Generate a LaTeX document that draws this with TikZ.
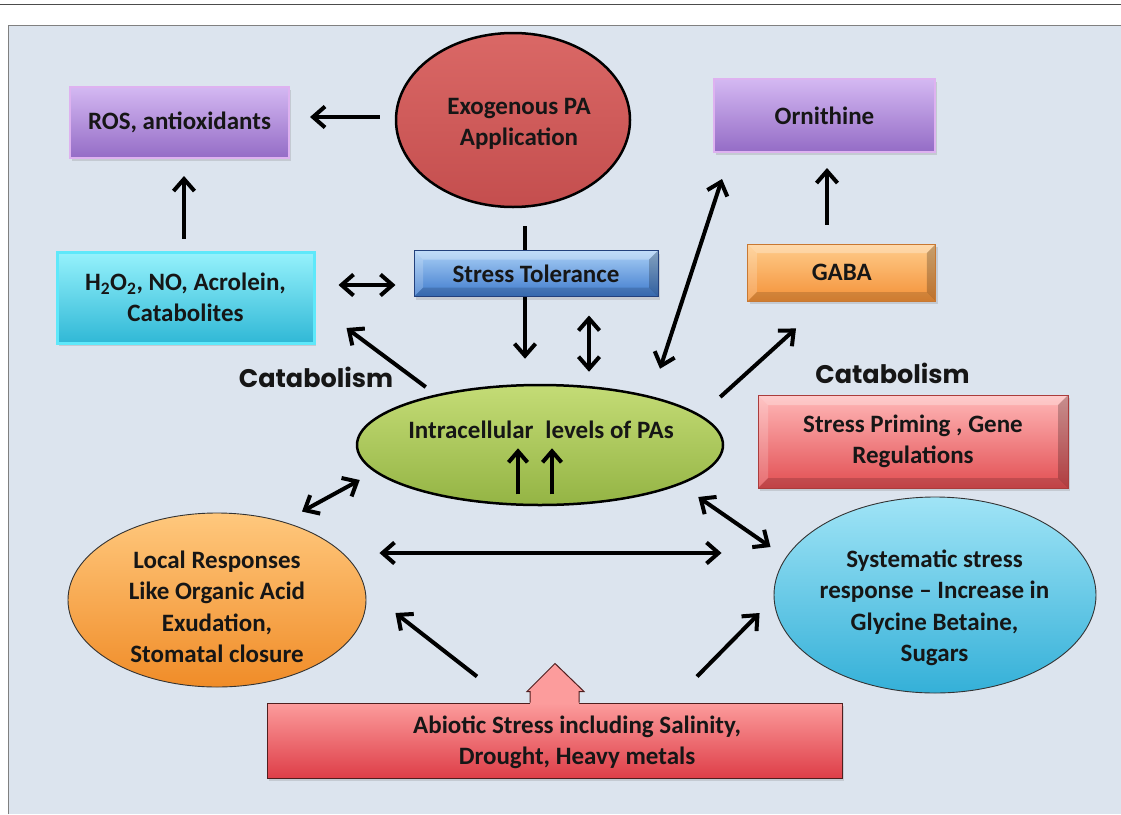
\documentclass[tikz,border=0pt]{standalone}
\usepackage{fontspec}
\setmainfont{Carlito}
\newfontfamily\catfont{Poppins}
\usetikzlibrary{arrows.meta,shapes.geometric,calc,shadows}
\definecolor{panel}{RGB}{220,228,238}
\definecolor{rosT}{RGB}{212,184,242}
\definecolor{rosB}{RGB}{148,108,198}
\definecolor{rosE}{RGB}{222,178,240}
\definecolor{cyT}{RGB}{150,242,252}
\definecolor{cyB}{RGB}{48,184,214}
\definecolor{cyE}{RGB}{95,232,250}
\definecolor{blT}{RGB}{170,208,246}
\definecolor{blB}{RGB}{62,122,205}
\definecolor{blE}{RGB}{35,65,125}
\definecolor{orT}{RGB}{255,204,140}
\definecolor{orB}{RGB}{244,146,56}
\definecolor{orE}{RGB}{200,120,50}
\definecolor{pkT}{RGB}{255,184,184}
\definecolor{pkB}{RGB}{226,78,82}
\definecolor{pkE}{RGB}{170,60,60}
\definecolor{abT}{RGB}{252,156,156}
\definecolor{abB}{RGB}{222,62,72}
\definecolor{abE}{RGB}{80,30,30}
\definecolor{exT}{RGB}{218,104,102}
\definecolor{exB}{RGB}{196,78,78}
\definecolor{grT}{RGB}{196,220,118}
\definecolor{grB}{RGB}{148,180,68}
\definecolor{loT}{RGB}{255,200,125}
\definecolor{loB}{RGB}{240,140,40}
\definecolor{syT}{RGB}{160,228,246}
\definecolor{syB}{RGB}{52,176,216}
\definecolor{ink}{RGB}{22,22,22}
\tikzset{
  txt/.style={font=\bfseries\fontsize{25}{31.5}\selectfont, align=center, text=ink, inner sep=0pt},
  cattxt/.style={font=\catfont\bfseries\fontsize{25.5}{28}\selectfont, text=ink, inner sep=0pt},
  box/.style={rectangle, inner sep=0pt, txt, drop shadow={opacity=0.25, shadow xshift=2pt, shadow yshift=-3pt}},
  oval/.style={ellipse, inner sep=0pt},
  bevel/.style={path picture={
    \fill[white,opacity=0.28] (path picture bounding box.north west) -- (path picture bounding box.north east)
      -- ([xshift=-#1,yshift=-#1]path picture bounding box.north east) -- ([xshift=#1,yshift=-#1]path picture bounding box.north west) -- cycle;
    \fill[white,opacity=0.18] (path picture bounding box.north west) -- (path picture bounding box.south west)
      -- ([xshift=#1,yshift=#1]path picture bounding box.south west) -- ([xshift=#1,yshift=-#1]path picture bounding box.north west) -- cycle;
    \fill[black,opacity=0.22] (path picture bounding box.north east) -- (path picture bounding box.south east)
      -- ([xshift=-#1,yshift=#1]path picture bounding box.south east) -- ([xshift=-#1,yshift=-#1]path picture bounding box.north east) -- cycle;
    \fill[black,opacity=0.15] (path picture bounding box.south west) -- (path picture bounding box.south east)
      -- ([xshift=-#1,yshift=#1]path picture bounding box.south east) -- ([xshift=#1,yshift=#1]path picture bounding box.south west) -- cycle;
  }},
  tipb/.tip={Straight Barb[length=12pt,width=21pt]},
  arr/.style={line width=4pt, -tipb},
  darr/.style={line width=4pt, tipb-tipb},
  plain/.style={line width=4pt},
  sarr/.style={line width=4pt, -{Straight Barb[length=11pt,width=19pt]}},
}
\begin{document}
\begin{tikzpicture}[x=1pt,y=-1pt]
\useasboundingbox (0,0) rectangle (1121,814);
\fill[white] (0,0) rectangle (1121,814);
\draw[line width=1.2pt, black!70] (0,4.5) -- (1121,4.5);
\fill[panel] (8.5,25) rectangle (1121,814);
\draw[line width=1pt, black!50] (8.5,814) -- (8.5,25) -- (1121,25);

% nodes
\node[box, minimum width=219pt, minimum height=71pt, top color=rosT, bottom color=rosB, draw=rosE, line width=2pt] (ros) at (179.5,122.5) {ROS, antioxidants};
\node[oval, minimum width=234pt, minimum height=174pt, top color=exT, bottom color=exB, draw=black, line width=2.5pt] (exo) at (513,120) {};
\node[txt] (exotxt) at (519,124) {Exogenous PA\\Application};
\node[box, minimum width=257pt, minimum height=91pt, top color=cyT, bottom color=cyB, draw=cyE, line width=3pt] (h2o2) at (185.5,297.5) {H\textsubscript{2}O\textsubscript{2}, NO, Acrolein,\\Catabolites};
\node[box, bevel=9pt, minimum width=244pt, minimum height=46pt, top color=blT, bottom color=blB, draw=blE, line width=1pt] (stress) at (536,273.5) {Stress Tolerance};
\node[box, minimum width=221pt, minimum height=73pt, top color=rosT, bottom color=rosB, draw=rosE, line width=2pt] (orn) at (824.5,115.5) {Ornithine};
\node[box, bevel=9pt, minimum width=188pt, minimum height=57pt, top color=orT, bottom color=orB, draw=orE, line width=0.8pt] (gaba) at (841.75,272.5) {GABA};
\node[oval, minimum width=366pt, minimum height=120pt, top color=grT, bottom color=grB, draw=black, line width=2.5pt] (intra) at (540,445) {};
\node[txt] (intratxt) at (541,430) {Intracellular\hspace{0.25em} levels of PAs};
\node[box, bevel=10pt, minimum width=310pt, minimum height=93pt, top color=pkT, bottom color=pkB, draw=pkE, line width=0.8pt] (prim) at (913,441.5) {Stress Priming , Gene\\Regulations};
\node[oval, minimum width=298pt, minimum height=174pt, top color=loT, bottom color=loB, draw=black!80, line width=0.9pt] (local) at (217,600) {};
\node[txt] (localtxt) at (217,607) {Local Responses\\Like Organic Acid\\Exudation,\\Stomatal closure};
\node[oval, minimum width=322pt, minimum height=196pt, top color=syT, bottom color=syB, draw=black!80, line width=0.9pt] (sys) at (935,595) {};
\node[txt] (systxt) at (934.5,608) {Systematic stress\\response -- Increase in\\Glycine Betaine,\\Sugars};
\node[box, minimum width=575pt, minimum height=75pt, top color=abT, bottom color=abB, draw=abE, line width=1pt] (abio) at (554.5,740.5) {};
% tab arrow on abiotic box
\fill[abT] ($(abio.north)+(-24.5,2)$) -- ($(abio.north)+(-24.5,-11)$) -- ($(abio.north)+(-27.5,-11)$) -- ($(abio.north)+(0.5,-39)$) -- ($(abio.north)+(29.5,-11)$) -- ($(abio.north)+(24.5,-11)$) -- ($(abio.north)+(24.5,2)$) -- cycle;
\draw[abE, line width=1pt, line join=miter] ($(abio.north)+(-24.5,0)$) -- ($(abio.north)+(-24.5,-11)$) -- ($(abio.north)+(-27.5,-11)$) -- ($(abio.north)+(0.5,-39)$) -- ($(abio.north)+(29.5,-11)$) -- ($(abio.north)+(24.5,-11)$) -- ($(abio.north)+(24.5,0)$);
\node[txt] (abiotxt) at (577,742.5) {Abiotic Stress including Salinity,\\Drought, Heavy metals};
\node[cattxt] (cat1) at (316,377) {Catabolism};
\node[cattxt] (cat2) at (892.5,373) {Catabolism};

% connectors
\draw[arr] ($(exo.west)+(-15,-3)$) -- ($(ros.east)+(20,-5.5)$);
\draw[arr] ($(h2o2.north)+(-1.5,-12)$) -- ($(ros.south)+(4.5,17)$);
\draw[darr] ($(h2o2.east)+(23,-12.5)$) -- ($(stress.west)+(-18,11.5)$);
\draw[plain] ($(exo.south)+(12,18)$) -- ($(stress.north)+(-11,0)$);
\draw[arr] ($(stress.south)+(-11,0)$) -- ($(intra.north)+(-15,-25)$);
\draw[darr] ($(stress.south)+(53,18.5)$) -- ($(intra.north)+(49,-12)$);
\draw[darr] ($(intra.north)+(120,-15)$) -- ($(orn.south)+(-102.5,26)$);
\draw[arr] ($(gaba.north)+(-14.75,-19)$) -- ($(orn.south)+(2.5,15)$);
\draw[arr] ($(intra.east)+(-4,-48)$) -- ($(gaba.south)+(-45.75,27)$);
\draw[arr] ($(intra.west)+(70,-58)$) -- ($(h2o2.east)+(31,30.5)$);
\draw[darr] ($(local.north)+(85,-1)$) -- ($(intra.west)+(4,35)$);
\draw[darr] ($(local.east)+(13,-47)$) -- ($(sys.west)+(-52,-42)$);
\draw[darr] ($(intra.east)+(-26,52)$) -- ($(sys.west)+(-3,-48)$);
\draw[arr] ($(abio.north)+(-77.5,-26)$) -- ($(local.east)+(29,13)$);
\draw[arr] ($(abio.north)+(142.5,-26)$) -- ($(sys.west)+(-14,18)$);
\draw[sarr] ($(intra.south)+(-22,-12)$) -- ($(intra.south)+(-22,-58)$);
\draw[sarr] ($(intra.south)+(12,-12)$) -- ($(intra.south)+(12,-58)$);
\end{tikzpicture}
\end{document}
